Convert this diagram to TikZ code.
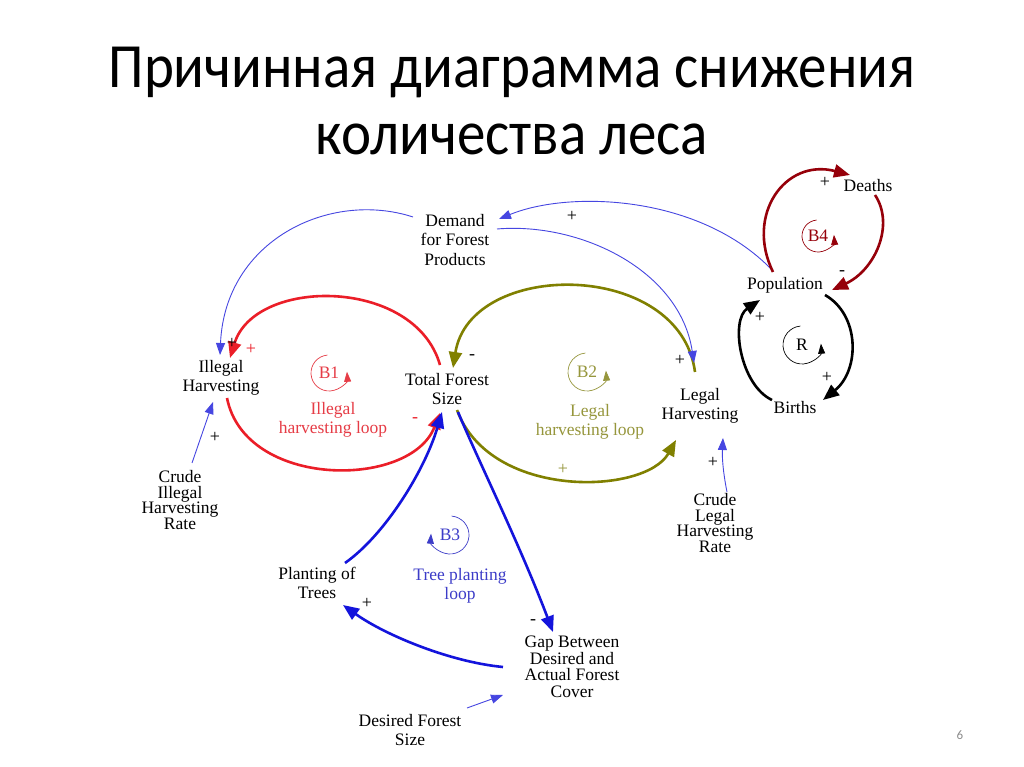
\documentclass[tikz,border=0pt]{standalone}
\usepackage{fontspec}
\setmainfont{Liberation Serif}
\newfontfamily\titlefont{Carlito}
\usetikzlibrary{arrows.meta,calc}
\definecolor{cred}{RGB}{235,30,40}
\definecolor{colive}{RGB}{128,128,0}
\definecolor{cblue}{RGB}{20,20,220}
\definecolor{cthin}{RGB}{70,70,225}
\definecolor{cdark}{RGB}{150,0,10}
\definecolor{lred}{RGB}{230,60,70}
\definecolor{lolive}{RGB}{150,150,60}
\definecolor{lblue}{RGB}{60,60,200}
\definecolor{pgnum}{RGB}{140,140,140}
\begin{document}
\begin{tikzpicture}[x=1pt,y=1pt,
  var/.style={align=center,font=\fontsize{17.5}{19.5}\selectfont,inner sep=0pt},
  tightvar/.style={align=center,font=\fontsize{17.5}{15.5}\selectfont,inner sep=0pt},
  thicklink/.style={line width=2.6pt,-{Triangle[length=16pt,width=13pt]}},
  thinlink/.style={line width=0.9pt,cthin,-{Triangle[length=12pt,width=9pt]}},
  sign/.style={font=\fontsize{18}{18}\selectfont,inner sep=0pt},
  looplbl/.style={align=center,font=\fontsize{17.5}{19.5}\selectfont,inner sep=0pt},
  loopmark/.style={line width=0.7pt,-{Triangle[length=10pt,width=7pt]}},
  titletext/.style={anchor=base,font=\titlefont\fontsize{63}{63}\selectfont,inner sep=0pt,xscale=0.905}]
\useasboundingbox[fill=white] (0,0) rectangle (1024,767);

% title
\node[titletext] (t1) at (512,679) {Причинная диаграмма снижения};
\node[titletext] (t2) at (512,612) {количества леса};
\node[font=\titlefont\fontsize{13}{13}\selectfont,text=pgnum,inner sep=0pt] (pg) at (960,32) {6};

% variables
\node[var] (dem) at (455,527) {Demand\\for Forest\\Products};
\node[var] (ill) at (221,389) {Illegal\\Harvesting};
\node[var] (tfs) at (447,378) {Total Forest\\Size};
\node[var] (leg) at (700,361) {Legal\\Harvesting};
\node[var] (pop) at (785,482) {Population};
\node[var] (dth) at (868,581) {Deaths};
\node[var] (brt) at (795,359) {Births};
\node[tightvar] (cih) at (180,267) {Crude\\Illegal\\Harvesting\\Rate};
\node[tightvar] (clh) at (715,244) {Crude\\Legal\\Harvesting\\Rate};
\node[var] (pot) at (317,184) {Planting of\\Trees};
\node[tightvar,font=\fontsize{17.5}{16.5}\selectfont] (gap) at (572,100) {Gap Between\\Desired and\\Actual Forest\\Cover};
\node[var] (dfs) at (410,37) {Desired Forest\\Size};

% loop labels
\node[looplbl,text=lred] (b1) at (329,394) {B1};
\node[looplbl,text=lred] (l1) at (333,347) {Illegal\\harvesting loop};
\node[looplbl,text=lolive] (b2) at (587,395) {B2};
\node[looplbl,text=lolive] (l2) at (590,345) {Legal\\harvesting loop};
\node[looplbl,text=lblue] (b3) at (450,232) {B3};
\node[looplbl,text=lblue] (l3) at (460,181) {Tree planting\\loop};
\node[looplbl,text=cdark] (b4) at (818,531) {B4};
\node[looplbl] (r) at (802,422) {R};

\draw[loopmark,lred] ($(b1)+(95:18)$) arc[start angle=95,end angle=364,radius=18];
\draw[loopmark,lolive] ($(b2)+(95:19)$) arc[start angle=95,end angle=364,radius=19];
\draw[loopmark,lblue] ($(b3)+(85:19)$) arc[start angle=85,end angle=-184,radius=19];
\draw[loopmark,cdark] ($(b4)+(95:16)$) arc[start angle=95,end angle=364,radius=16];
\draw[loopmark,black] ($(r)+(95:19)$) arc[start angle=95,end angle=364,radius=19];

% red loop
\draw[thicklink,cred] ($(tfs)+(-7,24)$) .. controls (415,490) and (255,490) .. ($(ill)+(9,20)$);
\draw[thicklink,cred] ($(ill)+(6,-20)$) .. controls (245,278) and (410,278) .. ($(tfs)+(-7,-24)$);
% olive loop
\draw[thicklink,colive] ($(leg)+(-5,34)$) .. controls (680,508) and (470,508) .. ($(tfs)+(6,21)$);
\draw[thicklink,colive] ($(tfs)+(10,-21)$) .. controls (490,267) and (645,272) .. ($(leg)+(-24,-34)$);
% thin blue
\draw[thinlink] ($(dem)+(-42,23)$) .. controls (330,577) and (225,527) .. ($(ill)+(-1,23)$);
\draw[thinlink] ($(dem)+(42,11)$) .. controls (580,545) and (680,497) .. ($(leg)+(-6,43)$);
\draw[thinlink] ($(pop)+(-13,15)$) .. controls (700,572) and (570,577) .. ($(dem)+(44,21)$);
\draw[thinlink] ($(cih)+(12,37)$) -- ($(ill)+(-8,-24)$);
\draw[thinlink] ($(clh)+(12,31)$) .. controls (723,295) and (722,310) .. ($(leg)+(23,-32)$);
\draw[thinlink] ($(dfs)+(57,22)$) -- ($(gap)+(-69,-28)$);
% tree planting loop
\draw[thicklink,cblue] ($(pot)+(28,20)$) .. controls (385,232) and (425,297) .. ($(tfs)+(-5,-23)$);
\draw[thicklink,cblue] ($(tfs)+(11,-23)$) .. controls (478,307) and (520,222) .. ($(gap)+(-19,35)$);
\draw[thicklink,cblue] ($(gap)+(-69,0)$) .. controls (450,105) and (385,132) .. ($(pot)+(26,-22)$);
% population loops
\draw[thicklink,cdark] ($(pop)+(-12,13)$) .. controls (745,552) and (785,609) .. ($(dth)+(-18,11)$);
\draw[thicklink,cdark] ($(dth)+(7,-9)$) .. controls (895,542) and (875,497) .. ($(pop)+(47,-5)$);
\draw[thicklink,black] ($(pop)+(40,-10)$) .. controls (860,452) and (860,397) .. ($(brt)+(28,8)$);
\draw[thicklink,black] ($(brt)+(-23,8)$) .. controls (740,382) and (730,447) .. ($(pop)+(-25,-15)$);

% signs
\node[sign,text=cred] (s1) at (251,418) {+};
\node[sign] (s2) at (232,424) {+};
\node[sign,text=cred] (s3) at (415,347) {-};
\node[sign] (s4) at (472,410) {-};
\node[sign,text=lolive] (s5) at (563,298) {+};
\node[sign] (s6) at (680,407) {+};
\node[sign] (s7) at (572,551) {+};
\node[sign] (s8) at (215,330) {+};
\node[sign] (s9) at (713,305) {+};
\node[sign] (s10) at (533,145) {-};
\node[sign] (s11) at (367,164) {+};
\node[sign] (s12) at (825,585) {+};
\node[sign] (s13) at (842,494) {-};
\node[sign] (s14) at (827,390) {+};
\node[sign] (s15) at (760,450) {+};
\end{tikzpicture}
\end{document}
